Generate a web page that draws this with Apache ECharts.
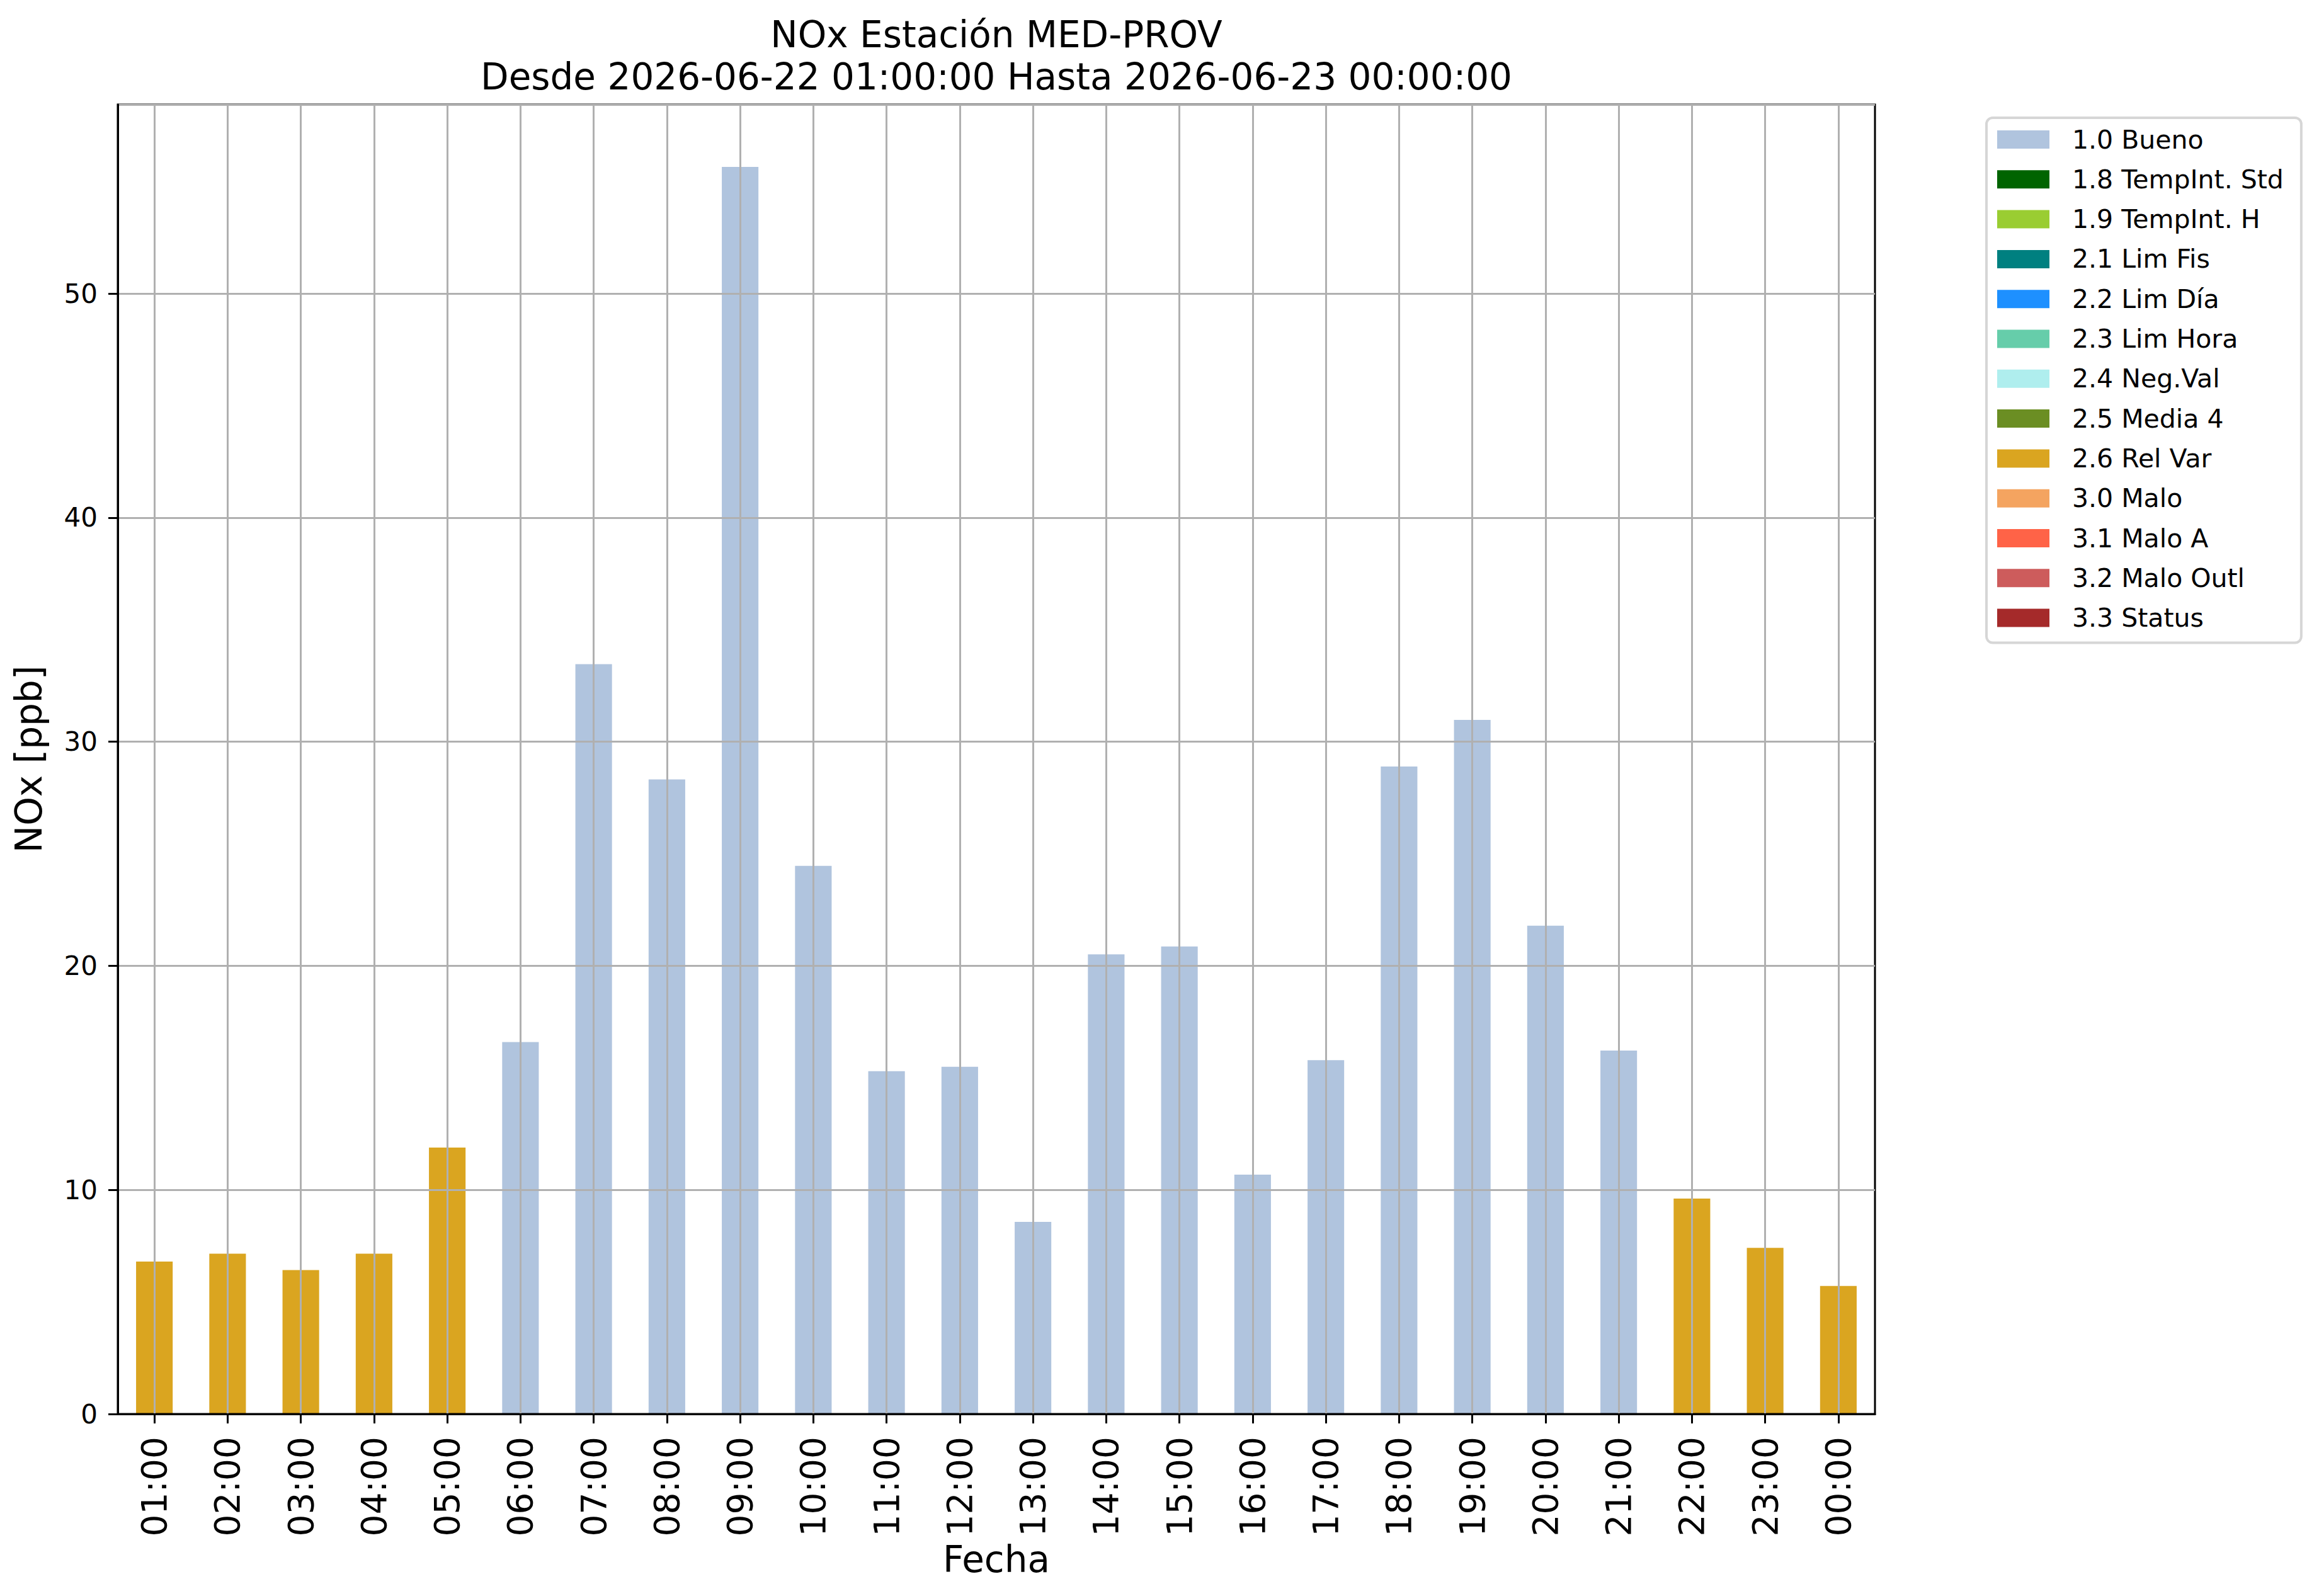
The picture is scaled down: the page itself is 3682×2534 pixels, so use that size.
<!DOCTYPE html>
<html>
<head>
<meta charset="utf-8">
<script src="https://cdn.jsdelivr.net/npm/echarts@6/dist/echarts.min.js"></script>
<style>
html,body{margin:0;padding:0;background:#fff;}
#chart{width:3682px;height:2534px;}
</style>
</head>
<body>
<div id="chart"></div>
<script>
// ---- data ----
const hours = ['01:00','02:00','03:00','04:00','05:00','06:00','07:00','08:00','09:00','10:00','11:00','12:00',
               '13:00','14:00','15:00','16:00','17:00','18:00','19:00','20:00','21:00','22:00','23:00','00:00'];
const noxValues = [6.8, 7.15, 6.42, 7.15, 11.89, 16.6, 33.46, 28.32, 55.65, 24.46, 15.3, 15.49,
                   8.57, 20.51, 20.86, 10.68, 15.79, 28.89, 30.97, 21.79, 16.22, 9.61, 7.41, 5.71];
const flags = ['2.6 Rel Var','2.6 Rel Var','2.6 Rel Var','2.6 Rel Var','2.6 Rel Var',
               '1.0 Bueno','1.0 Bueno','1.0 Bueno','1.0 Bueno','1.0 Bueno','1.0 Bueno','1.0 Bueno',
               '1.0 Bueno','1.0 Bueno','1.0 Bueno','1.0 Bueno','1.0 Bueno','1.0 Bueno','1.0 Bueno',
               '1.0 Bueno','1.0 Bueno','2.6 Rel Var','2.6 Rel Var','2.6 Rel Var'];
const classNames = ['1.0 Bueno','1.8 TempInt. Std','1.9 TempInt. H','2.1 Lim Fis','2.2 Lim Día','2.3 Lim Hora',
                    '2.4 Neg.Val','2.5 Media 4','2.6 Rel Var','3.0 Malo','3.1 Malo A','3.2 Malo Outl','3.3 Status'];
const classColors = ['#B0C4DE','#006400','#9ACD32','#008080','#1E90FF','#66CDAA',
                     '#AFEEEE','#6B8E23','#DAA520','#F4A460','#FF6347','#CD5C5C','#A52A2A'];
const titleLines = ['NOx Estación MED-PROV', 'Desde 2026-06-22 01:00:00 Hasta 2026-06-23 00:00:00'];

const FONT = 'DejaVu Sans';
const yMax = Math.max(...noxValues) * 1.05;

const series = classNames.map((name, ci) => ({
  name: name,
  type: 'bar',
  stack: 'total',
  barWidth: '50%',
  z: -1,
  itemStyle: { color: classColors[ci] },
  emphasis: { disabled: true },
  data: noxValues.map((v, i) => flags[i] === name ? v : '-')
}));

const chart = echarts.init(document.getElementById('chart'), null, { renderer: 'svg' });
chart.setOption({
  animation: false,
  backgroundColor: '#ffffff',
  textStyle: { fontFamily: FONT },
  grid: {
    left: 187, right: 705, top: 166, bottom: 289,
    show: true, borderColor: '#000000', borderWidth: 3, backgroundColor: 'transparent',
    containLabel: false
  },
  graphic: [
    { type: 'text', x: 1582, y: 55, silent: true,
      style: { text: titleLines[0], font: '58px "DejaVu Sans"', fill: '#000', align: 'center', verticalAlign: 'middle' } },
    { type: 'text', x: 1582, y: 122, silent: true,
      style: { text: titleLines[1], font: '58px "DejaVu Sans"', fill: '#000', align: 'center', verticalAlign: 'middle' } }
  ],
  legend: {
    orient: 'vertical',
    left: 3154, top: 187,
    padding: [14, 28, 19, 17],
    itemWidth: 83, itemHeight: 29, itemGap: 22.3,
    icon: 'rect',
    selectedMode: false,
    borderColor: '#d6d6d6', borderWidth: 4, borderRadius: 10,
    backgroundColor: '#ffffff',
    textStyle: { fontFamily: FONT, fontSize: 41, color: '#000', padding: [0, 0, 0, 31] },
    data: classNames
  },
  xAxis: {
    type: 'category',
    data: hours,
    boundaryGap: true,
    name: 'Fecha',
    nameLocation: 'middle',
    nameGap: 196,
    nameTextStyle: { fontFamily: FONT, fontSize: 58, color: '#000' },
    axisLine: { show: true, lineStyle: { color: '#000', width: 3 } },
    axisTick: { show: true, alignWithLabel: true, length: 15, lineStyle: { color: '#000', width: 3 } },
    axisLabel: { rotate: 90, fontFamily: FONT, fontSize: 55, color: '#000', margin: 36, interval: 0 },
    splitLine: { show: true, alignWithLabel: true, interval: 0, lineStyle: { color: '#b0b0b0', width: 3 } }
  },
  yAxis: {
    type: 'value',
    min: 0, max: yMax, interval: 10,
    name: 'NOx [ppb]',
    nameLocation: 'middle',
    nameRotate: 90,
    nameGap: 112,
    nameTextStyle: { fontFamily: FONT, fontSize: 58, color: '#000' },
    axisLine: { show: true, lineStyle: { color: '#000', width: 3 } },
    axisTick: { show: true, length: 15, lineStyle: { color: '#000', width: 3 } },
    axisLabel: { fontFamily: FONT, fontSize: 42, color: '#000', margin: 32, showMaxLabel: false },
    splitLine: { show: true, lineStyle: { color: '#b0b0b0', width: 3 } }
  },
  series: series
});
</script>
</body>
</html>
